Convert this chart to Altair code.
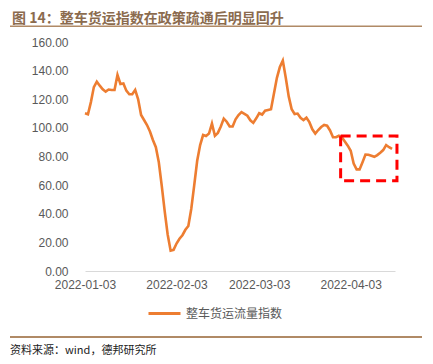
import altair as alt
import pandas as pd

start_date = "2022-01-03"
series_name = "整车货运流量指数"
values = [
    110.2, 109.5, 118.0, 128.5, 132.3, 129.5, 127.0, 125.3, 126.8, 126.5,
    126.5, 137.0, 130.7, 131.0, 126.0, 123.5, 123.5, 126.5, 120.0, 109.0,
    105.5, 102.0, 97.5, 91.5, 86.5, 76.0, 59.5, 41.7, 25.5, 14.2,
    14.8, 19.2, 22.5, 25.0, 28.8, 31.4, 43.5, 60.0, 77.0, 88.0,
    95.0, 94.3, 96.0, 103.0, 94.5, 96.5, 101.0, 106.5, 104.3, 101.0,
    101.0, 106.0, 109.0, 111.0, 109.8, 108.5, 105.3, 103.5, 106.7, 110.2,
    109.3, 112.0, 112.5, 113.0, 124.0, 135.0, 142.5, 147.0, 135.0, 122.0,
    113.0, 109.7, 110.0, 107.0, 105.5, 107.1, 104.0, 99.0, 96.0, 98.5,
    100.6, 102.0, 101.5, 98.2, 93.5, 93.5, 94.5, 93.5, 90.5, 87.6,
    84.0, 75.0, 71.0, 71.0, 76.0, 81.3, 81.2, 80.5, 79.8, 81.0,
    82.7, 84.5, 88.0, 86.5, 85.3,
]
y_ticks = [0, 20, 40, 60, 80, 100, 120, 140, 160]
x_tick_dates = [(2022, 1, 3), (2022, 2, 3), (2022, 3, 3), (2022, 4, 3)]
box_x = ["2022-03-30T14:00:00", "2022-04-18T16:00:00"]
box_y = [63.0, 94.3]
title_text = "图 14：整车货运指数在政策疏通后明显回升"
source_text = "资料来源：wind，德邦研究所"

dates = pd.date_range(start_date, periods=len(values), freq="D")
df = pd.DataFrame({"date": dates, "value": values, "series": series_name})

W, H = 310, 229
FONT = "Noto Sans CJK SC"

x_scale = alt.Scale(domain=[alt.DateTime(year=2022, month=1, date=3),
                            alt.DateTime(year=2022, month=4, date=18)])
y_scale = alt.Scale(domain=[0, 160], nice=False)

x_axis = alt.Axis(values=[alt.DateTime(year=a, month=b, date=c) for a, b, c in x_tick_dates],
                  format="%Y-%m-%d", ticks=False, grid=False,
                  domainColor="#D9D9D9", domainWidth=1,
                  labelFont="Liberation Sans", labelFontSize=12,
                  labelColor="#595959", labelPadding=8, labelFlush=False,
                  labelOverlap=False)
y_axis = alt.Axis(values=y_ticks, format=".2f", ticks=False, grid=False,
                  domain=False, labelFont="Liberation Sans", labelFontSize=12,
                  labelColor="#595959", labelPadding=17, labelOverlap=False)

line = alt.Chart(df).mark_line(strokeWidth=2.6).encode(
    x=alt.X("date:T", scale=x_scale, title=None, axis=x_axis),
    y=alt.Y("value:Q", scale=y_scale, title=None, axis=y_axis),
    color=alt.Color("series:N", scale=alt.Scale(range=["#ED7D31"]),
                    legend=alt.Legend(orient="none", legendX=62, legendY=254, title=None,
                                      symbolType="stroke", symbolSize=1024,
                                      symbolStrokeWidth=3, labelFont=FONT,
                                      labelFontSize=12, labelColor="#595959",
                                      labelOffset=4)),
)

box_df = pd.DataFrame({"x": [pd.Timestamp(box_x[0])], "x2": [pd.Timestamp(box_x[1])],
                       "y": [box_y[0]], "y2": [box_y[1]]})
box = alt.Chart(box_df).mark_rect(fill=None, fillOpacity=0, stroke="#FF0000",
                                  strokeWidth=3, strokeDash=[10, 6]).encode(
    x=alt.X("x:T", scale=x_scale, title=None, axis=x_axis), x2="x2",
    y=alt.Y("y:Q", scale=y_scale, title=None, axis=y_axis), y2="y2"
)

dummy = pd.DataFrame({"a": [0]})
title = alt.Chart(dummy).mark_text(align="left", baseline="middle", font=FONT,
                                   fontSize=14, fontWeight="bold", color="#8B6B4E").encode(
    x=alt.value(-73), y=alt.value(-23.5), text=alt.value(title_text))
top_rule = alt.Chart(dummy).mark_rect(color="#B08A66").encode(
    x=alt.value(-75), x2=alt.value(337), y=alt.value(-16.5), y2=alt.value(-15))
bottom_rule = alt.Chart(dummy).mark_rect(color="#B08A66").encode(
    x=alt.value(-75), x2=alt.value(337), y=alt.value(294), y2=alt.value(296))
source = alt.Chart(dummy).mark_text(align="left", baseline="middle", font=FONT,
                                    fontSize=11, color="#222222").encode(
    x=alt.value(-75), y=alt.value(309), text=alt.value(source_text))

chart = alt.layer(line, box, title, top_rule, bottom_rule, source).properties(
    width=W, height=H,
    autosize=alt.AutoSizeParams(type="none"),
    padding={"left": 77, "top": 34, "right": 30, "bottom": 85},
).configure_view(stroke=None)

chart.save("out.html", embed_options={"renderer": "svg", "actions": False})
